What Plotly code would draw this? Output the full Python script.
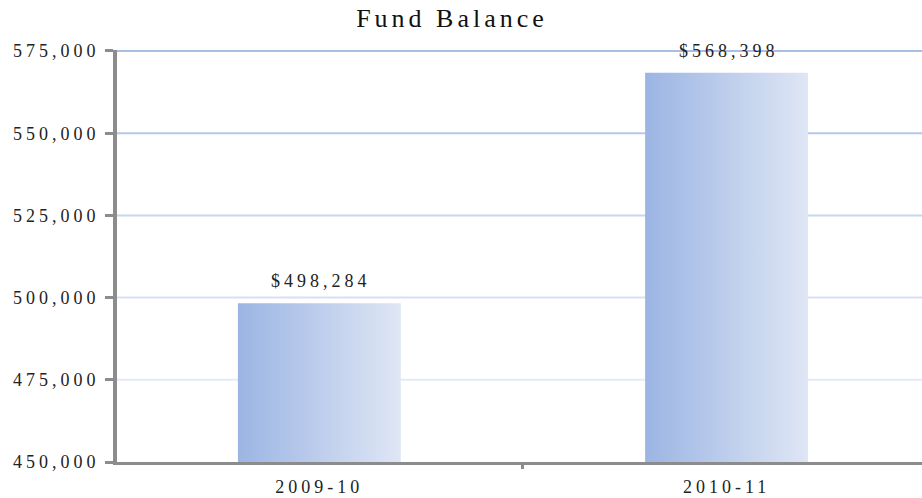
import plotly.graph_objects as go

# Data
years = ["2009-10", "2010-11"]
balance = [498284, 568398]
y_ticks = [450000, 475000, 500000, 525000, 550000, 575000]

Y_MIN = 450000
Y_MAX = 575300   # a little headroom so the top gridline isn't clipped
HALF_W = 0.2

serif = "Liberation Serif"
# gridlines get a bit darker towards the top
grid_cols = ["#e4eaf7", "#d6e0f4", "#c8d6f0", "#b4c7ec", "#a8bfe8"]

fig = go.Figure()

for val, col in zip(y_ticks[1:], grid_cols):
    fig.add_shape(type="line", xref="paper", yref="y", x0=0, x1=1, y0=val, y1=val,
                  line=dict(color=col, width=2), layer="below")

# bars with horizontal gradient fill
for i, (yr, val) in enumerate(zip(years, balance)):
    fig.add_trace(go.Scatter(
        x=[i - HALF_W, i + HALF_W, i + HALF_W, i - HALF_W, i - HALF_W],
        y=[Y_MIN, Y_MIN, val, val, Y_MIN],
        mode="lines", fill="toself", line=dict(width=0),
        fillgradient=dict(type="horizontal",
                          colorscale=[[0, "#9bb5e3"], [1, "#dfe6f5"]]),
        hoverinfo="skip", showlegend=False))
    fig.add_annotation(x=i, y=val, text=f"${val:,}", showarrow=False,
                       yanchor="middle", yshift=22, xshift=2,
                       font=dict(family=serif, size=18, color="#222"))

fig.update_layout(
    width=922, height=498,
    plot_bgcolor="white", paper_bgcolor="white",
    margin=dict(l=117, r=0, t=50, b=36),
    title=dict(text="Fund Balance", x=452 / 922, xanchor="center",
               y=1 - 18 / 498, yanchor="middle",
               font=dict(family=serif, size=26, color="#111")),
    showlegend=False,
)

# plot area runs a few px past the right edge in the original
fig.update_xaxes(range=[-0.497, 1.48], tickvals=[0, 1], ticktext=years,
                 showgrid=False, zeroline=False,
                 showline=True, linecolor="#8c8c8c", linewidth=3,
                 ticks="", ticklabelstandoff=6,
                 tickfont=dict(family=serif, size=18, color="#222"),
                 minor=dict(tickvals=[0.5], ticks="outside", ticklen=4,
                            tickwidth=3, tickcolor="#8c8c8c"))

fig.update_yaxes(range=[Y_MIN, Y_MAX], tickvals=y_ticks,
                 ticktext=[f"{v:,}" for v in y_ticks],
                 showgrid=False, zeroline=False,
                 showline=True, linecolor="#8c8c8c", linewidth=4,
                 ticks="outside", ticklen=8, tickwidth=3, tickcolor="#8c8c8c",
                 ticklabelstandoff=2,
                 tickfont=dict(family=serif, size=18, color="#222"))

# no page margin, and the wide letter spacing of the original
post_js = """
document.body.style.margin = '0';
document.querySelectorAll('.main-svg text').forEach(function(t){
  t.style.letterSpacing = '4px';
});
"""

fig.write_html("out.html", post_script=post_js, config={"displayModeBar": False})
